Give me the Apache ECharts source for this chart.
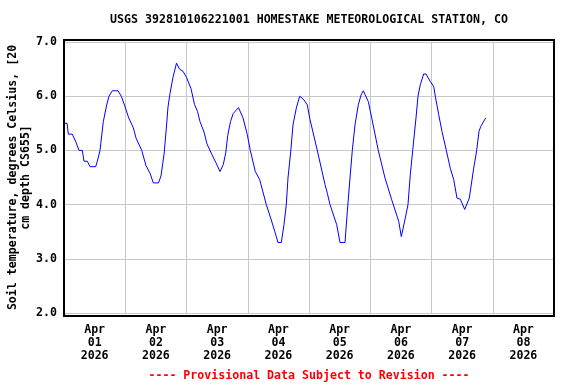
<!DOCTYPE html>
<html>
<head>
<meta charset="utf-8">
<script src="https://cdn.jsdelivr.net/npm/echarts@6/dist/echarts.min.js"></script>
<style>html,body{margin:0;padding:0;background:#fff}#c{width:576px;height:384px}</style>
</head>
<body>
<div id="c"></div>
<script>
// Hours since 2026-04-01 00:00
var hours = [0,1.2,1.7,3.25,4.7,5.88,7.17,7.84,9.13,10.19,12.42,13.05,14.11,15.4,16.73,17.63,18.93,21.16,22.45,23.98,25.35,27.15,28.21,30.45,32.13,33.7,34.99,37.03,38.01,39.26,40.16,40.75,41.53,42.71,44.08,45.26,46.63,48.08,49.76,51.13,52.31,53.29,54.86,56.03,57.99,59.56,61.13,62.42,63.36,64.14,65.24,66.3,68.38,70.14,71.82,73.0,74.96,76.68,79.27,80.99,82.56,83.85,85.15,86.2,87.1,87.77,88.83,89.73,91.02,92.36,92.98,94.04,95.33,96.39,99.25,102.27,103.17,104.23,106.85,108.15,110.11,111.01,112.07,112.97,114.02,115.32,116.38,117.28,119.24,120.57,123.15,125.78,128.4,131.15,132.17,133.73,134.79,135.69,136.63,137.93,138.71,139.61,140.94,141.84,143.53,144.86,145.49,146.82,148.11,149.8,151.37,152.7,153.99,155.28,157.01,158.81,160.53,161.71,162.61,163.29,165.24];
var temps = [5.5,5.5,5.3,5.3,5.15,5.0,5.0,4.8,4.8,4.7,4.7,4.8,5.0,5.53,5.84,6.0,6.1,6.1,6.0,5.8,5.6,5.42,5.23,5.0,4.72,4.58,4.4,4.4,4.53,4.95,5.45,5.8,6.05,6.35,6.61,6.5,6.46,6.34,6.14,5.85,5.72,5.53,5.34,5.12,4.92,4.77,4.61,4.74,4.95,5.27,5.53,5.68,5.79,5.6,5.29,5.0,4.61,4.46,4.0,3.75,3.51,3.3,3.3,3.63,4.0,4.49,4.97,5.47,5.78,6.0,6.0,5.93,5.84,5.57,5.0,4.37,4.21,4.0,3.63,3.3,3.3,3.87,4.49,5.0,5.47,5.84,6.02,6.1,5.9,5.6,5.0,4.49,4.09,3.69,3.41,3.75,4.0,4.55,5.0,5.6,6.0,6.21,6.41,6.41,6.27,6.18,6.0,5.66,5.35,5.0,4.67,4.46,4.12,4.1,3.91,4.12,4.67,5.0,5.35,5.44,5.6];
var dayLabels = ['Apr\n01\n2026','Apr\n02\n2026','Apr\n03\n2026','Apr\n04\n2026','Apr\n05\n2026','Apr\n06\n2026','Apr\n07\n2026','Apr\n08\n2026'];
var yTicks = [2, 3, 4, 5, 6, 7];
var titleText = 'USGS 392810106221001 HOMESTAKE METEOROLOGICAL STATION, CO';
var yName = 'Soil temperature, degrees Celsius, [20\ncm depth CS655]';
var footerText = '---- Provisional Data Subject to Revision ----';

var FONT = '"DejaVu Sans Mono", "Liberation Mono", monospace';
var data = hours.map(function (h, i) { return [h, temps[i]]; });

var chart = echarts.init(document.getElementById('c'), null, {renderer: 'canvas'});
chart.setOption({
  animation: false,
  backgroundColor: '#ffffff',
  grid: {left: 64, right: 22, top: 42, bottom: 71, containLabel: false, outerBoundsMode: 'none'},
  graphic: [
    {type: 'text', x: 309, y: 14, style: {text: titleText, align: 'center', verticalAlign: 'top', fill: '#000', font: 'bold 11.6px ' + FONT}, z: 10},
    {type: 'text', x: 309, y: 370, style: {text: footerText, align: 'center', verticalAlign: 'top', fill: '#ff0000', font: 'bold 11.6px ' + FONT}, z: 10},
    {type: 'rect', shape: {x: 64, y: 40, width: 490, height: 276}, style: {fill: 'none', stroke: '#000', lineWidth: 2}, z: 20, silent: true}
  ],
  xAxis: [
    {
      type: 'value', min: 0, max: 192, interval: 24,
      axisLine: {show: false}, axisTick: {show: false}, axisLabel: {show: false},
      splitLine: {show: true, lineStyle: {color: '#c8c8c8', width: 1}}
    },
    {
      type: 'category', data: dayLabels, position: 'bottom', boundaryGap: true,
      axisLine: {show: false}, axisTick: {show: false}, splitLine: {show: false},
      axisLabel: {interval: 0, margin: 11, color: '#000', fontFamily: FONT, fontWeight: 'bold', fontSize: 11.6, lineHeight: 12.7}
    }
  ],
  yAxis: {
    type: 'value', min: yTicks[0], max: yTicks[yTicks.length - 1], interval: 1,
    axisLine: {show: false}, axisTick: {show: false},
    axisLabel: {margin: 7, color: '#000', fontFamily: FONT, fontWeight: 'bold', fontSize: 11.6, formatter: function (v) { return v.toFixed(1); }},
    splitLine: {show: true, lineStyle: {color: '#c8c8c8', width: 1}},
    name: yName, nameLocation: 'middle', nameRotate: 90, nameGap: 32, nameMoveOverlap: false,
    nameTextStyle: {color: '#000', fontFamily: FONT, fontWeight: 'bold', fontSize: 11.6, lineHeight: 13, align: 'center'}
  },
  series: [{
    type: 'line', xAxisIndex: 0, data: data, showSymbol: false, symbol: 'none',
    lineStyle: {color: '#0000ff', width: 1}, z: 5
  }]
});
</script>
</body>
</html>
